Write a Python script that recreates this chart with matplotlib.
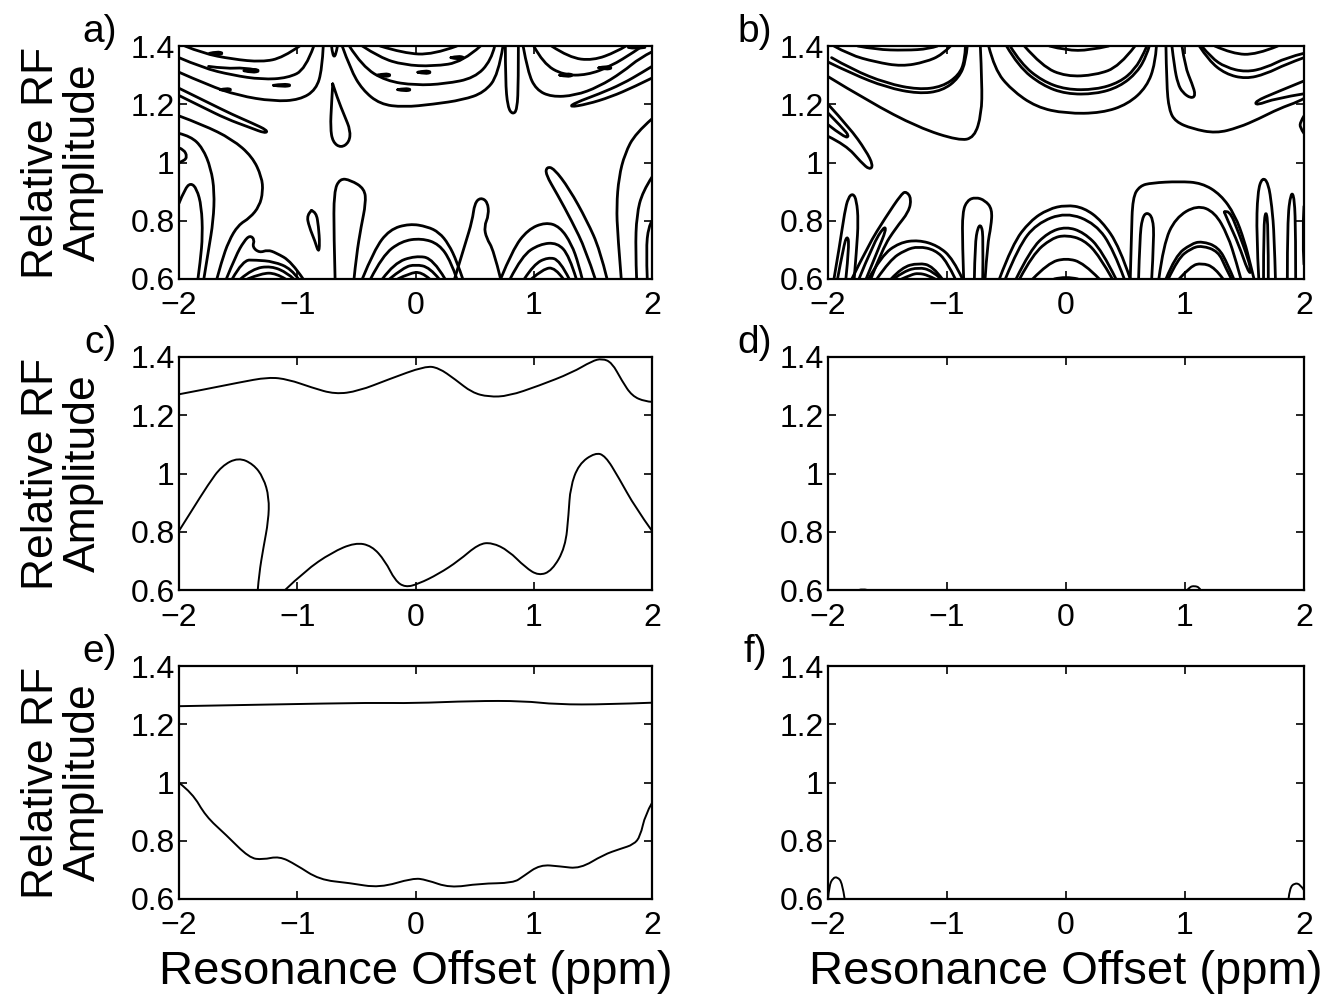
import numpy as np
import matplotlib.pyplot as plt
from matplotlib.path import Path
from matplotlib.patches import PathPatch

plt.rcParams['font.family'] = ['Liberation Sans', 'DejaVu Sans']

offset_ticks = [-2, -1, 0, 1, 2]
offset_labels = ['\u22122', '\u22121', '0', '1', '2']
amp_ticks = [0.6, 0.8, 1.0, 1.2, 1.4]
amp_labels = ['0.6', '0.8', '1', '1.2', '1.4']

# contour traces as (offset ppm, relative RF amplitude)
a_contours = [
    # upper left bowls
    [(-1.95, 1.40), (-1.80, 1.375), (-1.55, 1.355), (-1.30, 1.345), (-1.12, 1.36), (-0.98, 1.40)],
    [(-1.75, 1.33), (-1.60, 1.322), (-1.45, 1.326), (-1.35, 1.318)],
    [(-2.0, 1.36), (-1.80, 1.325), (-1.55, 1.30), (-1.30, 1.285), (-1.08, 1.29), (-0.93, 1.32), (-0.86, 1.40)],
    [(-2.0, 1.31), (-1.75, 1.265), (-1.50, 1.23), (-1.20, 1.21), (-0.98, 1.215), (-0.84, 1.25), (-0.79, 1.32), (-0.78, 1.40)],
    [(-2.0, 1.23), (-1.80, 1.19), (-1.60, 1.15), (-1.40, 1.12), (-1.27, 1.10), (-1.25, 1.11), (-1.38, 1.135),
     (-1.55, 1.165), (-1.75, 1.205), (-2.0, 1.255)],
    [(-1.74, 1.375), (-1.68, 1.381), (-1.62, 1.375), (-1.68, 1.369), (-1.74, 1.375)],
    [(-1.45, 1.315), (-1.38, 1.322), (-1.31, 1.315), (-1.38, 1.308), (-1.45, 1.315)],
    [(-1.65, 1.25), (-1.60, 1.255), (-1.55, 1.25), (-1.60, 1.245), (-1.65, 1.25)],
    [(-1.20, 1.265), (-1.12, 1.27), (-1.04, 1.265), (-1.12, 1.26), (-1.20, 1.265)],
    # central V and teardrop
    [(-0.71, 1.40), (-0.69, 1.33), (-0.66, 1.40)],
    [(-0.70, 1.27), (-0.71, 1.20), (-0.72, 1.12), (-0.70, 1.07), (-0.63, 1.05), (-0.56, 1.07), (-0.55, 1.11),
     (-0.60, 1.16), (-0.66, 1.22), (-0.70, 1.27)],
    # upper centre bowls
    [(-0.62, 1.40), (-0.55, 1.32), (-0.45, 1.25), (-0.30, 1.20), (-0.10, 1.19), (0.15, 1.20), (0.40, 1.215),
     (0.58, 1.24), (0.70, 1.30), (0.74, 1.40)],
    [(-0.56, 1.40), (-0.45, 1.33), (-0.25, 1.28), (0.0, 1.265), (0.25, 1.27), (0.50, 1.29), (0.64, 1.35), (0.67, 1.40)],
    [(-0.45, 1.40), (-0.30, 1.36), (-0.10, 1.335), (0.15, 1.33), (0.40, 1.345), (0.55, 1.40)],
    [(-0.30, 1.40), (-0.10, 1.375), (0.15, 1.37), (0.35, 1.40)],
    [(-0.32, 1.30), (-0.26, 1.306), (-0.20, 1.30), (-0.26, 1.294), (-0.32, 1.30)],
    [(-0.15, 1.25), (-0.09, 1.255), (-0.03, 1.25), (-0.09, 1.245), (-0.15, 1.25)],
    [(0.02, 1.31), (0.08, 1.316), (0.14, 1.31), (0.08, 1.304), (0.02, 1.31)],
    [(0.30, 1.36), (0.36, 1.366), (0.42, 1.36), (0.36, 1.354), (0.30, 1.36)],
    # hanging finger
    [(0.76, 1.40), (0.76, 1.28), (0.78, 1.19), (0.82, 1.165), (0.86, 1.18), (0.87, 1.28), (0.87, 1.40)],
    # upper right bowls
    [(0.91, 1.40), (0.95, 1.31), (1.02, 1.25), (1.15, 1.225), (1.35, 1.23), (1.55, 1.26), (1.75, 1.31),
     (1.90, 1.36), (2.0, 1.38)],
    [(1.0, 1.40), (1.08, 1.34), (1.25, 1.30), (1.45, 1.30), (1.65, 1.33), (1.85, 1.38), (1.92, 1.40)],
    [(1.15, 1.40), (1.30, 1.36), (1.50, 1.35), (1.70, 1.38), (1.78, 1.40)],
    [(2.0, 1.29), (1.85, 1.26), (1.65, 1.225), (1.45, 1.20), (1.30, 1.19), (1.35, 1.205), (1.55, 1.235),
     (1.75, 1.27), (1.92, 1.31), (2.0, 1.33)],
    [(1.22, 1.30), (1.28, 1.306), (1.34, 1.30), (1.28, 1.294), (1.22, 1.30)],
    [(1.55, 1.325), (1.61, 1.331), (1.67, 1.325), (1.61, 1.319), (1.55, 1.325)],
    [(1.80, 1.395), (1.86, 1.39), (1.94, 1.395)],
    # left side lobes
    [(-2.0, 1.10), (-1.90, 1.09), (-1.80, 1.05), (-1.73, 0.98), (-1.70, 0.90), (-1.71, 0.80), (-1.75, 0.70), (-1.79, 0.60)],
    [(-2.0, 0.86), (-1.95, 0.91), (-1.90, 0.93), (-1.85, 0.91), (-1.81, 0.85), (-1.80, 0.75), (-1.82, 0.66), (-1.84, 0.60)],
    [(-2.0, 1.16), (-1.80, 1.13), (-1.55, 1.08), (-1.38, 1.02), (-1.30, 0.95), (-1.29, 0.90), (-1.32, 0.85),
     (-1.40, 0.81), (-1.50, 0.785), (-1.58, 0.73), (-1.64, 0.66), (-1.68, 0.6)],
    [(-2.0, 1.05), (-1.96, 1.045), (-1.93, 1.02), (-1.96, 1.005), (-2.0, 1.0)],
    # lower left arches
    [(-1.60, 0.6), (-1.52, 0.68), (-1.45, 0.73), (-1.40, 0.75), (-1.36, 0.735), (-1.38, 0.71), (-1.32, 0.69),
     (-1.25, 0.70), (-1.18, 0.69), (-1.05, 0.66), (-0.95, 0.6)],
    [(-1.55, 0.6), (-1.46, 0.665), (-1.35, 0.665), (-1.20, 0.66), (-1.05, 0.635), (-0.99, 0.6)],
    [(-1.48, 0.6), (-1.38, 0.635), (-1.22, 0.645), (-1.08, 0.62), (-1.03, 0.6)],
    [(-1.42, 0.6), (-1.30, 0.62), (-1.18, 0.62), (-1.10, 0.6)],
    [(-0.88, 0.835), (-0.92, 0.82), (-0.90, 0.78), (-0.85, 0.73), (-0.82, 0.69), (-0.81, 0.72), (-0.82, 0.78),
     (-0.84, 0.83), (-0.88, 0.835)],
    [(-0.68, 0.6), (-0.69, 0.75), (-0.69, 0.90), (-0.64, 0.945), (-0.55, 0.94), (-0.43, 0.91), (-0.42, 0.86),
     (-0.46, 0.78), (-0.50, 0.68), (-0.52, 0.6)],
    # lower centre arches
    [(-0.45, 0.6), (-0.35, 0.70), (-0.22, 0.77), (-0.05, 0.79), (0.10, 0.78), (0.20, 0.76), (0.28, 0.72),
     (0.35, 0.66), (0.40, 0.6)],
    [(-0.38, 0.6), (-0.28, 0.68), (-0.12, 0.73), (0.05, 0.74), (0.20, 0.72), (0.30, 0.66), (0.35, 0.6)],
    [(-0.28, 0.6), (-0.18, 0.655), (0.0, 0.68), (0.15, 0.67), (0.25, 0.6)],
    [(-0.22, 0.6), (-0.10, 0.64), (0.0, 0.65), (0.12, 0.64), (0.20, 0.6)],
    [(-0.15, 0.6), (-0.05, 0.62), (0.05, 0.625), (0.12, 0.6)],
    [(0.33, 0.6), (0.42, 0.72), (0.48, 0.80), (0.50, 0.86), (0.55, 0.88), (0.61, 0.865), (0.62, 0.82),
     (0.58, 0.78), (0.60, 0.74), (0.66, 0.70), (0.72, 0.6)],
    # lower right arches
    [(0.72, 0.6), (0.82, 0.70), (0.95, 0.77), (1.10, 0.795), (1.22, 0.78), (1.32, 0.72), (1.38, 0.65), (1.41, 0.6)],
    [(0.80, 0.6), (0.90, 0.68), (1.05, 0.72), (1.20, 0.725), (1.30, 0.68), (1.36, 0.6)],
    [(0.92, 0.6), (1.00, 0.65), (1.12, 0.675), (1.22, 0.665), (1.30, 0.6)],
    [(0.98, 0.6), (1.08, 0.635), (1.18, 0.64), (1.25, 0.6)],
    [(1.52, 0.6), (1.44, 0.70), (1.32, 0.80), (1.20, 0.89), (1.10, 0.96), (1.11, 0.985), (1.17, 0.98),
     (1.30, 0.91), (1.45, 0.80), (1.56, 0.70), (1.62, 0.6)],
    # right side lobes
    [(2.0, 1.15), (1.86, 1.10), (1.77, 1.03), (1.72, 0.95), (1.70, 0.85), (1.71, 0.75), (1.74, 0.6)],
    [(2.0, 0.95), (1.92, 0.90), (1.87, 0.82), (1.86, 0.70), (1.87, 0.6)],
    [(1.96, 0.6), (1.95, 0.70), (1.97, 0.78), (2.0, 0.80)],
]

b_contours = [
    # upper left bowls
    [(-1.95, 1.40), (-1.82, 1.37), (-1.60, 1.345), (-1.38, 1.33), (-1.18, 1.345), (-1.04, 1.37), (-0.97, 1.40)],
    [(-1.75, 1.40), (-1.60, 1.388), (-1.35, 1.385), (-1.15, 1.39), (-1.08, 1.40)],
    [(-1.97, 1.36), (-1.80, 1.32), (-1.51, 1.272), (-1.24, 1.25), (-1.04, 1.26), (-0.90, 1.30), (-0.85, 1.35), (-0.845, 1.40)],
    [(-2.0, 1.345), (-1.80, 1.305), (-1.51, 1.258), (-1.24, 1.236), (-1.04, 1.246), (-0.90, 1.29), (-0.84, 1.35), (-0.83, 1.40)],
    [(-2.0, 1.295), (-1.66, 1.21), (-1.24, 1.12), (-0.90, 1.075), (-0.77, 1.085), (-0.71, 1.167), (-0.705, 1.27), (-0.72, 1.40)],
    [(-2.0, 1.20), (-1.82, 1.12), (-1.68, 1.04), (-1.62, 0.99), (-1.65, 0.975), (-1.72, 1.00), (-1.85, 1.06), (-2.0, 1.09)],
    [(-2.0, 1.17), (-1.88, 1.12), (-1.82, 1.09), (-1.86, 1.085), (-2.0, 1.13)],
    # upper centre bowls
    [(-0.65, 1.40), (-0.60, 1.32), (-0.46, 1.25), (-0.25, 1.19), (0.0, 1.168), (0.30, 1.17), (0.52, 1.20),
     (0.68, 1.26), (0.75, 1.34), (0.76, 1.40)],
    [(-0.50, 1.40), (-0.40, 1.33), (-0.20, 1.265), (0.0, 1.235), (0.25, 1.235), (0.45, 1.26), (0.60, 1.31),
     (0.68, 1.37), (0.70, 1.40)],
    [(-0.47, 1.40), (-0.38, 1.34), (-0.20, 1.28), (0.0, 1.25), (0.25, 1.25), (0.45, 1.275), (0.58, 1.32),
     (0.66, 1.38), (0.68, 1.40)],
    [(-0.35, 1.40), (-0.20, 1.33), (0.0, 1.295), (0.25, 1.30), (0.45, 1.33), (0.58, 1.40)],
    [(-0.14, 1.40), (0.0, 1.385), (0.20, 1.385), (0.36, 1.40)],
    # upper right bowls
    [(0.89, 1.40), (0.91, 1.33), (0.94, 1.27), (0.98, 1.24), (1.05, 1.22), (1.09, 1.23), (1.06, 1.27),
     (1.00, 1.33), (0.975, 1.40)],
    [(0.84, 1.40), (0.845, 1.27), (0.866, 1.18), (0.92, 1.14), (1.06, 1.116), (1.26, 1.10), (1.45, 1.12),
     (1.62, 1.15), (1.79, 1.185), (1.96, 1.21), (2.0, 1.22)],
    [(1.12, 1.40), (1.20, 1.35), (1.34, 1.304), (1.51, 1.287), (1.68, 1.304), (1.85, 1.338), (2.0, 1.36)],
    [(1.14, 1.40), (1.22, 1.36), (1.34, 1.327), (1.51, 1.31), (1.68, 1.325), (1.85, 1.36), (2.0, 1.375)],
    [(1.25, 1.40), (1.40, 1.373), (1.60, 1.37), (1.78, 1.40)],
    [(2.0, 1.28), (1.76, 1.24), (1.59, 1.21), (1.60, 1.196), (1.76, 1.22), (2.0, 1.236)],
    [(2.0, 1.16), (1.97, 1.14), (1.965, 1.12), (2.0, 1.10)],
    # lower left fingers and arches
    [(-1.95, 0.6), (-1.90, 0.72), (-1.86, 0.83), (-1.83, 0.88), (-1.79, 0.894), (-1.76, 0.87), (-1.745, 0.80),
     (-1.76, 0.70), (-1.78, 0.6)],
    [(-1.92, 0.6), (-1.87, 0.71), (-1.84, 0.75), (-1.82, 0.72), (-1.85, 0.6)],
    [(-1.80, 0.6), (-1.66, 0.717), (-1.52, 0.809), (-1.38, 0.894), (-1.34, 0.90), (-1.30, 0.877), (-1.32, 0.831),
     (-1.43, 0.775), (-1.54, 0.706), (-1.64, 0.6)],
    [(-1.74, 0.6), (-1.62, 0.72), (-1.53, 0.78), (-1.51, 0.77), (-1.58, 0.70), (-1.68, 0.6)],
    [(-1.66, 0.6), (-1.55, 0.68), (-1.40, 0.725), (-1.24, 0.734), (-1.08, 0.715), (-0.95, 0.67), (-0.87, 0.6)],
    [(-1.59, 0.6), (-1.48, 0.665), (-1.35, 0.70), (-1.24, 0.712), (-1.10, 0.70), (-1.00, 0.66), (-0.93, 0.6)],
    [(-1.47, 0.6), (-1.38, 0.64), (-1.24, 0.655), (-1.12, 0.645), (-1.04, 0.6)],
    [(-1.45, 0.6), (-1.36, 0.627), (-1.24, 0.64), (-1.13, 0.63), (-1.05, 0.6)],
    [(-1.38, 0.6), (-1.30, 0.615), (-1.24, 0.62), (-1.16, 0.613), (-1.10, 0.6)],
    [(-0.86, 0.6), (-0.87, 0.72), (-0.87, 0.83), (-0.83, 0.87), (-0.76, 0.881), (-0.68, 0.87), (-0.62, 0.84),
     (-0.63, 0.78), (-0.66, 0.72), (-0.68, 0.6)],
    [(-0.77, 0.6), (-0.765, 0.72), (-0.74, 0.78), (-0.71, 0.785), (-0.695, 0.74), (-0.70, 0.6)],
    # lower centre arches
    [(-0.56, 0.6), (-0.45, 0.72), (-0.30, 0.80), (-0.15, 0.84), (0.0, 0.854), (0.15, 0.845), (0.30, 0.80),
     (0.45, 0.71), (0.54, 0.6)],
    [(-0.51, 0.6), (-0.40, 0.71), (-0.25, 0.79), (0.0, 0.83), (0.25, 0.79), (0.40, 0.70), (0.49, 0.6)],
    [(-0.42, 0.6), (-0.30, 0.70), (-0.15, 0.76), (0.0, 0.78), (0.15, 0.76), (0.30, 0.70), (0.42, 0.6)],
    [(-0.39, 0.6), (-0.28, 0.685), (-0.12, 0.74), (0.0, 0.751), (0.15, 0.735), (0.28, 0.68), (0.39, 0.6)],
    [(-0.28, 0.6), (-0.15, 0.655), (0.0, 0.672), (0.15, 0.655), (0.28, 0.6)],
    [(-0.10, 0.6), (0.0, 0.61), (0.10, 0.6)],
    # lower right
    [(0.54, 0.6), (0.55, 0.75), (0.56, 0.88), (0.62, 0.92), (0.72, 0.93), (0.95, 0.935), (1.14, 0.93),
     (1.30, 0.89), (1.42, 0.82), (1.50, 0.73), (1.55, 0.65), (1.58, 0.6)],
    [(0.61, 0.6), (0.62, 0.74), (0.64, 0.81), (0.68, 0.83), (0.73, 0.81), (0.74, 0.74), (0.72, 0.6)],
    [(0.78, 0.6), (0.82, 0.72), (0.92, 0.81), (1.10, 0.854), (1.25, 0.83), (1.36, 0.75), (1.43, 0.66), (1.47, 0.6)],
    [(0.84, 0.6), (0.92, 0.68), (1.05, 0.72), (1.14, 0.73), (1.28, 0.71), (1.36, 0.65), (1.41, 0.6)],
    [(0.86, 0.6), (0.94, 0.67), (1.05, 0.705), (1.14, 0.715), (1.28, 0.695), (1.34, 0.64), (1.39, 0.6)],
    [(0.95, 0.6), (1.05, 0.645), (1.14, 0.655), (1.25, 0.64), (1.32, 0.6)],
    [(1.33, 0.83), (1.37, 0.84), (1.45, 0.76), (1.53, 0.67), (1.56, 0.62), (1.53, 0.625), (1.45, 0.72),
     (1.36, 0.80), (1.33, 0.83)],
    [(1.62, 0.6), (1.60, 0.75), (1.61, 0.90), (1.65, 0.95), (1.70, 0.93), (1.73, 0.85), (1.75, 0.75), (1.76, 0.6)],
    [(1.66, 0.6), (1.66, 0.78), (1.68, 0.84), (1.70, 0.78), (1.70, 0.6)],
    [(1.86, 0.6), (1.86, 0.80), (1.89, 0.90), (1.92, 0.88), (1.93, 0.75), (1.93, 0.6)],
    [(2.0, 0.65), (1.985, 0.75), (2.0, 0.85)],
]

c_upper = [(-2.0, 1.272), (-1.78, 1.289), (-1.498, 1.312), (-1.244, 1.331), (-1.075, 1.323), (-0.877, 1.295),
           (-0.680, 1.272), (-0.482, 1.283), (-0.229, 1.323), (0.082, 1.369), (0.195, 1.363), (0.336, 1.323),
           (0.477, 1.278), (0.618, 1.263), (0.787, 1.266), (1.041, 1.301), (1.323, 1.346), (1.492, 1.386),
           (1.577, 1.395), (1.661, 1.381), (1.746, 1.318), (1.831, 1.266), (1.944, 1.247), (2.0, 1.246)]
c_left = [(-2.0, 0.803), (-1.893, 0.872), (-1.752, 0.963), (-1.639, 1.026), (-1.498, 1.055), (-1.371, 1.032),
          (-1.286, 0.986), (-1.238, 0.918), (-1.244, 0.838), (-1.286, 0.746), (-1.323, 0.655), (-1.334, 0.6)]
c_lower = [(-1.103, 0.6), (-0.934, 0.666), (-0.708, 0.729), (-0.511, 0.763), (-0.370, 0.752), (-0.257, 0.700),
           (-0.172, 0.632), (-0.087, 0.609), (0.025, 0.621), (0.195, 0.655), (0.364, 0.700), (0.533, 0.758),
           (0.646, 0.763), (0.787, 0.735), (0.928, 0.678), (1.041, 0.649), (1.154, 0.666), (1.267, 0.746),
           (1.295, 0.861), (1.309, 0.952), (1.380, 1.032), (1.520, 1.072), (1.605, 1.061), (1.718, 0.986),
           (1.859, 0.883), (2.0, 0.803)]
c_contours = [c_upper, c_left, c_lower]

d_contours = [
    [(1.02, 0.6), (1.04, 0.611), (1.08, 0.614), (1.12, 0.609), (1.13, 0.6)],
    [(-1.74, 0.6), (-1.71, 0.604), (-1.67, 0.6)],
]

e_upper = [(-2.0, 1.262), (-1.208, 1.268), (-0.360, 1.274), (-0.021, 1.272), (0.488, 1.280), (0.912, 1.280),
           (1.194, 1.268), (1.618, 1.268), (2.0, 1.274)]
e_lower = [(-2.0, 0.999), (-1.887, 0.964), (-1.774, 0.884), (-1.604, 0.821), (-1.406, 0.741), (-1.293, 0.735),
           (-1.152, 0.747), (-1.011, 0.718), (-0.813, 0.666), (-0.558, 0.655), (-0.304, 0.638), (-0.021, 0.672),
           (0.092, 0.666), (0.290, 0.638), (0.544, 0.653), (0.827, 0.655), (0.912, 0.678), (1.053, 0.718),
           (1.223, 0.712), (1.392, 0.704), (1.590, 0.752), (1.731, 0.772), (1.845, 0.787), (1.901, 0.815),
           (1.943, 0.890), (2.0, 0.930)]
e_contours = [e_upper, e_lower]

f_contours = [
    [(-2.0, 0.6), (-1.99, 0.645), (-1.96, 0.672), (-1.92, 0.676), (-1.88, 0.655), (-1.86, 0.6)],
    [(1.87, 0.6), (1.88, 0.637), (1.92, 0.655), (1.97, 0.65), (2.0, 0.63)],
]

panels = [
    ('a)', a_contours, 2.0),
    ('b)', b_contours, 2.0),
    ('c)', c_contours, 1.4),
    ('d)', d_contours, 1.4),
    ('e)', e_contours, 1.4),
    ('f)', f_contours, 1.4),
]


def smooth_path(pts):
    # quadratic B-spline through the traced vertices, drawn as Bezier segments
    pts = np.asarray(pts, dtype=float)
    if len(pts) < 3:
        return Path(pts)
    verts = [pts[0]]
    codes = [Path.MOVETO]
    for i in range(1, len(pts) - 1):
        end = pts[i + 1] if i == len(pts) - 2 else (pts[i] + pts[i + 1]) / 2
        verts += [pts[i], end]
        codes += [Path.CURVE3, Path.CURVE3]
    return Path(verts, codes)


fig = plt.figure(figsize=(13.27, 9.98), dpi=100)
W, H = 1327.0, 998.0
col_left = [179, 828]
col_width = [473, 476]
row_top = [46, 357, 666]
row_height = 233

for i, (tag, contours, lw) in enumerate(panels):
    r, c = divmod(i, 2)
    ax = fig.add_axes([col_left[c] / W, 1 - (row_top[r] + row_height) / H,
                       col_width[c] / W, row_height / H])
    for line in contours:
        ax.add_patch(PathPatch(smooth_path(line), fill=False, edgecolor='k', lw=lw,
                               joinstyle='round', capstyle='round'))
    ax.set_xlim(-2, 2)
    ax.set_ylim(0.6, 1.4)
    ax.set_xticks(offset_ticks)
    ax.set_xticklabels(offset_labels)
    ax.set_yticks(amp_ticks)
    ax.set_yticklabels(amp_labels)
    ax.tick_params(direction='in', top=True, right=True, length=6, width=1.2,
                   labelsize=23)
    ax.tick_params(axis='x', pad=9)
    ax.tick_params(axis='y', pad=3)
    for s in ax.spines.values():
        s.set_linewidth(1.6)
    if c == 0:
        ax.set_ylabel('Relative RF\nAmplitude', fontsize=32, linespacing=1.05)
        ax.yaxis.set_label_coords(-0.158, 0.5)
    if r == 2:
        ax.set_xlabel('Resonance Offset (ppm)', fontsize=34, labelpad=6)
    fig.text((100 if c == 0 else 755) / W, 1 - (row_top[r] - 14) / H, tag,
             fontsize=28, ha='center', va='center')

fig.savefig('out.png', dpi=100)
